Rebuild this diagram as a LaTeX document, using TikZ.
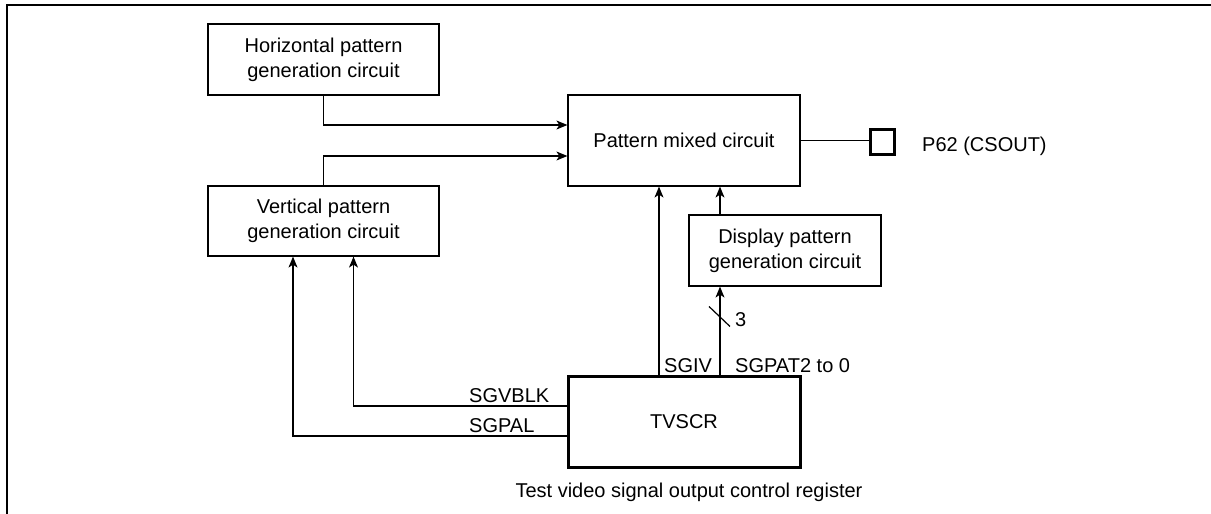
\documentclass[tikz,border=0pt]{standalone}
\usepackage{fontspec}
\setmainfont{Liberation Sans}
\usetikzlibrary{arrows.meta,calc}
\begin{document}
\begin{tikzpicture}[x=1pt,y=1pt,
  box/.style={draw, line width=1.2pt, inner sep=0pt, align=center, font=\fontsize{20}{25}\selectfont},
  sig/.style={line width=1.2pt, -{Stealth[length=11pt,width=9pt,inset=3pt]}},
  wire/.style={line width=1.2pt},
  lbl/.style={inner sep=0pt, font=\fontsize{20}{24}\selectfont}]
\useasboundingbox (0,0) rectangle (1211,-514);
% frame
\draw[line width=1.6pt] (7,-514) -- (7,-5) -- (1211,-5);
% blocks
\node[box, minimum width=231pt, minimum height=71pt] (hpg) at (323.5,-59.5) {Horizontal pattern\\generation circuit};
\node[box, minimum width=231pt, minimum height=70pt] (vpg) at (323.5,-221) {Vertical pattern\\generation circuit};
\node[box, minimum width=232pt, minimum height=91pt] (pmc) at (684,-140.5) {Pattern mixed circuit};
\node[box, minimum width=192pt, minimum height=71pt] (dpg) at (785,-250.5) {Display pattern\\generation circuit};
\node[box, line width=3pt, minimum width=232pt, minimum height=91pt] (tv) at (684,-421.5) {TVSCR};
\node[draw, line width=3pt, minimum width=24pt, minimum height=25pt, inner sep=0pt] (pin) at (882,-142) {};
% connectors
\draw[sig] (hpg.south) |- ([yshift=15.5pt]pmc.west);
\draw[sig] (vpg.north) |- ([yshift=-15.5pt]pmc.west);
\draw[sig] ([yshift=15.5pt]tv.west) -| ([xshift=30pt]vpg.south);
\draw[sig] ([yshift=-14.5pt]tv.west) -| ([xshift=-30.5pt]vpg.south);
\draw[sig] ([xshift=-25pt]tv.north) -- ([xshift=-25pt]pmc.south);
\draw[sig] ([xshift=36pt]tv.north) -- coordinate[pos=0.66] (bus) ([xshift=-65pt]dpg.south);
\draw[sig] ([xshift=-65pt]dpg.north) -- ([xshift=36pt]pmc.south);
\draw[wire] (pmc.east) -- (pmc.east -| pin.west);
% bus slash
\draw[wire] ($(bus)+(-11,10)$) -- ($(bus)+(10,-10)$);
% labels
\node[lbl, anchor=base west] (l3) at (735,-326) {3};
\node[lbl, anchor=base west] (lsgvblk) at (469,-402) {SGVBLK};
\node[lbl, anchor=base west] (lsgpal) at (469,-432) {SGPAL};
\node[lbl, anchor=base west] (lsgiv) at (664,-372) {SGIV};
\node[lbl, anchor=base west] (lsgpat) at (735,-372) {SGPAT2 to 0};
\node[lbl, anchor=base west] (lpin) at (922,-151) {P62 (CSOUT)};
\node[lbl, anchor=base] (cap) at (689,-497) {Test video signal output control register};
\end{tikzpicture}
\end{document}
